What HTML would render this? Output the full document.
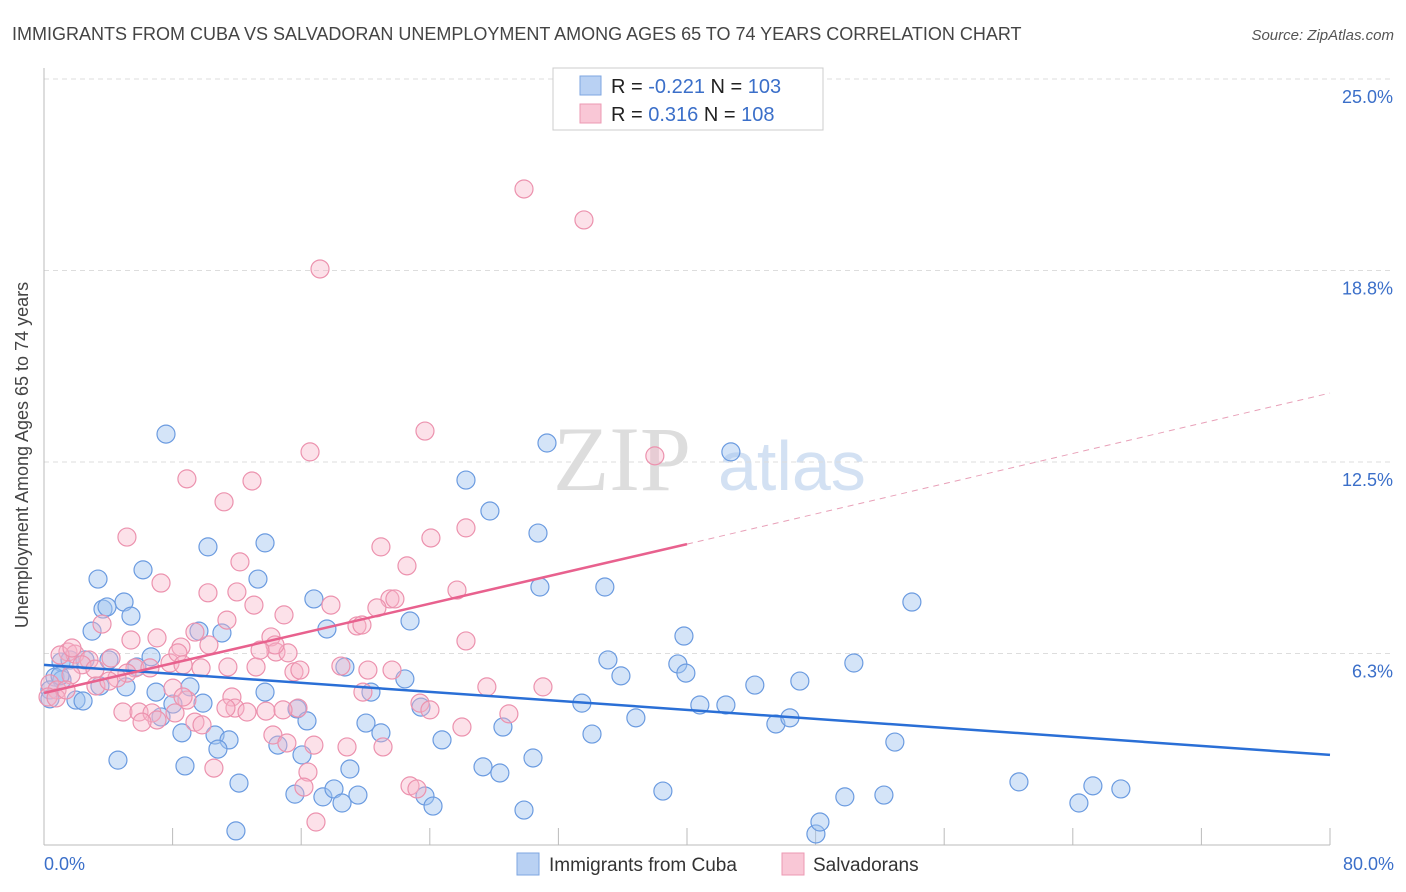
<!DOCTYPE html>
<html><head><meta charset="utf-8"><style>
body{margin:0;background:#fff;font-family:"Liberation Sans",sans-serif;}
svg{display:block}
</style></head><body>
<svg id="chart" width="1406" height="892">
<text x="12" y="40" font-size="18" fill="#444">IMMIGRANTS FROM CUBA VS SALVADORAN UNEMPLOYMENT AMONG AGES 65 TO 74 YEARS CORRELATION CHART</text>
<text x="1394" y="40" font-size="15" fill="#555" font-style="italic" text-anchor="end">Source: ZipAtlas.com</text>
<g>
<text x="553" y="490" font-size="92" fill="#ddd" font-family="Liberation Serif,serif">ZIP</text>
<text x="718" y="490" font-size="70" fill="#d3e1f3">atlas</text>
</g>
<g id="grid"></g>
<g id="axes"></g>
<g id="pts"></g>
<g id="lines"></g>
<text x="28" y="455" font-size="18" fill="#444" text-anchor="middle" transform="rotate(-90 28 455)">Unemployment Among Ages 65 to 74 years</text>
<g>
<rect x="553" y="68" width="270" height="62" fill="#fff" stroke="#ccc"/>
<rect x="580" y="76" width="21" height="19" fill="#b9d1f3" stroke="#7ea6e0"/>
<rect x="580" y="104" width="21" height="19" fill="#f9c7d6" stroke="#ec9ab3"/>
<text x="611" y="93" font-size="20" fill="#222">R = <tspan fill="#3b6fc9">-0.221</tspan>   N = <tspan fill="#3b6fc9">103</tspan></text>
<text x="611" y="121" font-size="20" fill="#222">R =  <tspan fill="#3b6fc9">0.316</tspan>   N = <tspan fill="#3b6fc9">108</tspan></text>
</g>
<g>
<rect x="517" y="853" width="22" height="22" fill="#b9d1f3" stroke="#7ea6e0"/>
<text x="549" y="871" font-size="19" fill="#333">Immigrants from Cuba</text>
<rect x="782" y="853" width="22" height="22" fill="#f9c7d6" stroke="#ec9ab3"/>
<text x="813" y="871" font-size="19" fill="#333">Salvadorans</text>
</g>
</svg>
<script>
const yTicks=[6.25,12.5,18.75,25];
const yTickLabels=["6.3%","12.5%","18.8%","25.0%"];
const xTicks=[8,16,24,32,40,48,56,64,72,80];
const blueX=[7.59,31.29,42.73,26.25,27.74,30.73,10.20,13.75,3.36,6.16,13.31,30.85,34.89,53.99,4.98,3.67,3.92,5.41,16.79,22.77,2.99,9.64,11.07,17.60,39.81,35.08,39.43,39.93,50.38,35.89,44.22,47.02,22.45,1.06,1.62,2.55,4.04,5.78,6.66,0.68,1.12,0.37,5.10,6.97,9.08,13.75,18.72,20.34,33.46,40.80,42.42,0.37,1.99,2.43,8.02,9.89,15.74,23.45,7.28,8.58,10.64,11.51,14.55,16.36,20.03,20.96,28.55,34.09,36.82,45.53,46.40,52.93,24.76,4.60,8.77,10.82,16.05,19.03,27.31,28.36,30.42,12.13,15.61,17.35,18.04,18.54,19.53,23.70,24.20,29.86,38.50,49.82,52.25,60.65,64.38,65.25,66.99,11.94,48.02,48.27,1.00,3.48];
const blueY=[13.41,13.12,12.83,11.91,10.90,10.18,9.73,9.86,8.68,8.98,8.68,8.42,8.42,7.93,7.93,7.70,7.77,7.47,8.03,7.31,6.98,6.98,6.92,7.05,6.82,6.04,5.91,5.61,5.94,5.52,5.22,5.35,5.42,5.97,6.04,6.04,6.04,5.81,6.14,5.48,5.39,5.06,5.16,4.99,5.16,4.99,5.81,4.99,4.63,4.57,4.57,4.77,4.73,4.70,4.60,4.63,4.44,4.50,4.18,3.66,3.59,3.43,3.26,4.05,3.98,3.66,3.85,3.62,4.15,3.95,4.15,3.36,3.43,2.77,2.58,3.13,2.94,2.48,2.55,2.35,2.84,2.02,1.66,1.57,1.83,1.37,1.63,1.60,1.27,1.14,1.76,1.57,1.63,2.06,1.37,1.93,1.83,0.46,0.36,0.75,5.52,5.19];
const pinkX=[29.86,33.59,17.17,23.70,16.55,38.00,8.89,12.94,11.20,26.25,5.16,24.07,20.96,12.19,22.58,7.28,10.20,12.00,25.69,13.06,21.52,21.83,20.71,14.93,17.85,3.61,11.38,19.47,19.78,5.41,7.03,10.26,8.52,14.12,26.25,1.49,1.93,2.80,1.00,2.36,3.17,4.17,5.66,5.16,7.84,8.33,8.65,9.77,11.44,13.19,14.43,15.18,15.55,18.47,20.15,21.65,0.37,0.81,0.25,1.68,3.23,4.54,4.04,8.02,11.69,8.89,11.88,15.80,19.84,23.39,27.55,31.04,4.91,5.91,6.72,7.03,6.10,8.15,9.39,9.83,12.63,13.81,14.87,26.00,28.92,10.57,14.24,15.11,16.79,18.85,21.09,16.42,16.17,22.77,23.20,16.92,0.75,1.37,1.74,8.65,6.59,9.39,11.32,14.37,13.44,15.92,24.01];
const pinkY=[21.41,20.40,18.80,13.51,12.83,12.70,11.95,11.88,11.20,10.35,10.05,10.02,9.73,9.24,9.11,8.55,8.23,8.26,8.32,7.83,8.03,8.03,7.74,7.51,7.83,7.21,7.34,7.15,7.18,6.69,6.76,6.53,6.46,6.79,6.66,6.30,6.23,6.04,6.20,5.88,5.74,6.10,5.78,5.61,5.94,6.27,5.88,5.78,5.81,5.81,6.30,6.27,5.65,5.84,5.71,5.71,5.26,5.06,4.83,5.55,5.19,5.45,5.35,5.12,4.83,4.73,4.47,4.47,4.99,4.63,5.16,5.16,4.34,4.34,4.31,4.08,4.01,4.31,4.01,3.92,4.34,4.37,4.41,3.85,4.28,2.51,3.59,3.33,3.26,3.20,3.20,2.38,1.89,1.93,1.83,0.75,4.80,5.06,6.43,4.83,5.78,6.95,4.47,6.53,6.36,5.71,4.41];
const blueTrend=[5.88,2.94];
const pinkTrend=[4.96,9.82,14.75];
const NS="http://www.w3.org/2000/svg";
const X0=44,X1=1330,Y0=845,YT=79;
function sx(v){return X0+(X1-X0)*v/80;}
function sy(v){return Y0-(Y0-YT)*v/25;}
function mk(tag,attrs,parent){const e=document.createElementNS(NS,tag);for(const k in attrs)e.setAttribute(k,attrs[k]);parent.appendChild(e);return e;}
const grid=document.getElementById('grid'),axes=document.getElementById('axes'),pts=document.getElementById('pts'),lines=document.getElementById('lines');
yTicks.forEach((t,i)=>{
 const l=mk('line',{x1:X0,x2:X1+60,y1:sy(t),y2:sy(t),stroke:'#ddd','stroke-dasharray':'5,4'},grid);
 
 
 const tx=mk('text',{x:1393,y:sy(t)+24,'font-size':18,fill:'#3b6fc9','text-anchor':'end'},axes);
 tx.textContent=yTickLabels[i];
 
 
});
let a=mk('line',{x1:X0,x2:X0,y1:68,y2:Y0,stroke:'#bbb'},axes);


a=mk('line',{x1:X0,x2:X1,y1:Y0,y2:Y0,stroke:'#bbb'},axes);


xTicks.forEach(t=>{
 const l=mk('line',{x1:sx(t),x2:sx(t),y1:Y0-17,y2:Y0,stroke:'#bbb'},axes);
 
 
});
let t0=mk('text',{x:44,y:870,'font-size':18,fill:'#3b6fc9'},axes);t0.textContent='0.0%';


let t1=mk('text',{x:1394,y:870,'font-size':18,fill:'#3b6fc9','text-anchor':'end'},axes);t1.textContent='80.0%';


blueX.forEach((x,i)=>{
 const c=mk('circle',{cx:sx(x),cy:sy(blueY[i]),r:9,fill:'rgba(160,195,240,0.45)',stroke:'#6b9be0','stroke-width':1.2},pts);
 
 
});
pinkX.forEach((x,i)=>{
 const c=mk('circle',{cx:sx(x),cy:sy(pinkY[i]),r:9,fill:'rgba(248,180,200,0.4)',stroke:'#ec92ae','stroke-width':1.2},pts);
 
 
});
let bl=mk('line',{x1:sx(0),y1:sy(blueTrend[0]),x2:sx(80),y2:sy(blueTrend[1]),stroke:'#2a6fd6','stroke-width':2.5},lines);


let pl=mk('line',{x1:sx(0),y1:sy(pinkTrend[0]),x2:sx(40),y2:sy(pinkTrend[1]),stroke:'#e8618e','stroke-width':2.5},lines);


let pd=mk('line',{x1:sx(40),y1:sy(pinkTrend[1]),x2:sx(80),y2:sy(pinkTrend[2]),stroke:'#e8a0b8','stroke-width':1,'stroke-dasharray':'6,5'},lines);


</script>
</body></html>
